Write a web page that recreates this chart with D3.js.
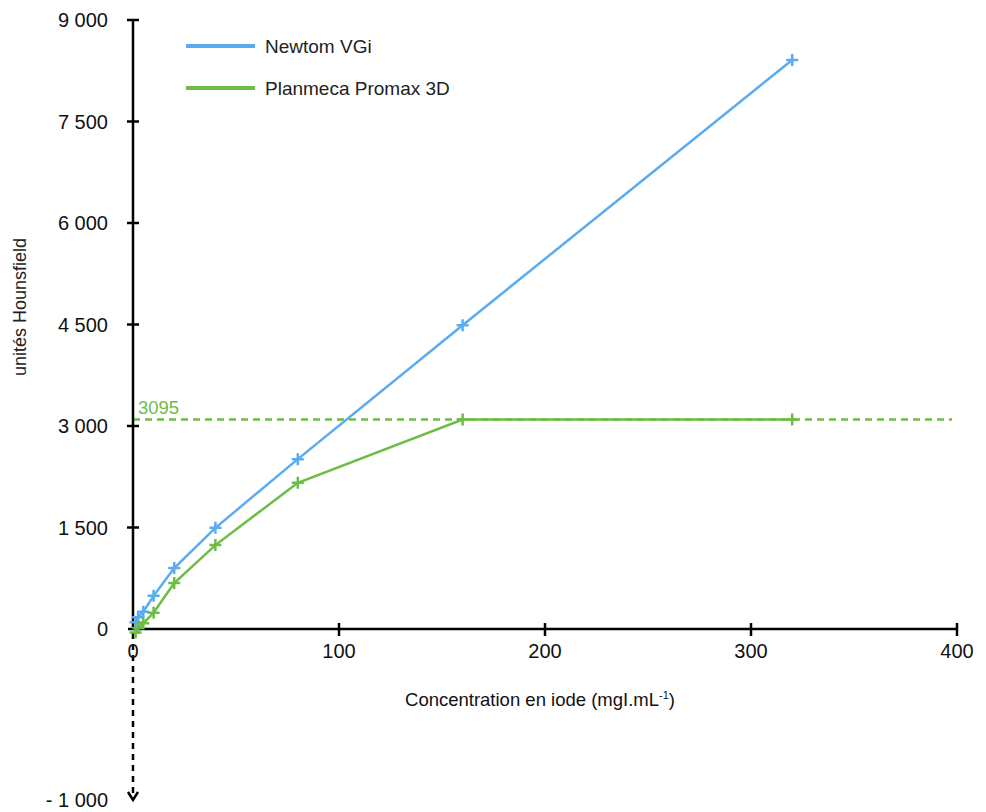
<!DOCTYPE html>
<html><head><meta charset="utf-8">
<script src="https://cdn.jsdelivr.net/npm/d3@7"></script>
<style>body{margin:0;background:#fff}svg{display:block}text{font-family:"Liberation Sans",Arial,Helvetica,sans-serif}</style>
</head><body>
<svg id="c" width="986" height="812"></svg>
<script>
const concentrations = [1.25, 2.5, 5, 10, 20, 40, 80, 160, 320];
const newtom = [100, 175, 255, 490, 900, 1495, 2510, 4490, 8410];
const planmeca = [-20, 15, 85, 240, 680, 1240, 2160, 3095, 3095];
const seriesNames = ["Newtom VGi", "Planmeca Promax 3D"];
const seriesColors = ["#5aabf0", "#6dbd45"];
const yTicks = [0, 1500, 3000, 4500, 6000, 7500, 9000];
const xTicks = [0, 100, 200, 300, 400];
const saturation = 3095;
const yMinLabel = -1000;

const svg = d3.select("#c");
const x = d3.scaleLinear().domain([0, 400]).range([133, 957]);
const y = d3.scaleLinear().domain([-1000, 0, 9000]).range([800, 629, 20]);
const fmt = v => (v < 0 ? "- " : "") + String(Math.abs(v)).replace(/\B(?=(\d{3})+(?!\d))/g, " ");

// saturation dashed line
svg.append("line").attr("x1", x(0)).attr("x2", 952).attr("y1", y(saturation)).attr("y2", y(saturation))
  .attr("stroke", seriesColors[1]).attr("stroke-width", 2.5).attr("stroke-dasharray", "7,5");
svg.append("text").attr("x", x(0) + 5).attr("y", y(saturation) - 6).attr("fill", seriesColors[1])
  .attr("font-size", 18.5).text(String(saturation));

// axes
const ax = svg.append("g").attr("stroke", "#000").attr("stroke-width", 2.5);
ax.append("line").attr("x1", x(0)).attr("x2", x(0)).attr("y1", y(9000)).attr("y2", y(0));
ax.append("line").attr("x1", x(0) - 5).attr("x2", x(400)).attr("y1", y(0)).attr("y2", y(0));
ax.append("line").attr("x1", x(0)).attr("x2", x(0)).attr("y1", y(0) + 4).attr("y2", y(yMinLabel) - 2)
  .attr("stroke-dasharray", "6,5");
ax.append("path").attr("d", `M${x(0)-5},${y(yMinLabel)-8} L${x(0)},${y(yMinLabel)} L${x(0)+5},${y(yMinLabel)-8}`)
  .attr("fill", "none");
yTicks.forEach(t => {
  if (t > 0) ax.append("line").attr("x1", x(0) - 6).attr("x2", x(0) + 6).attr("y1", y(t)).attr("y2", y(t));
  svg.append("text").attr("x", 108).attr("y", y(t)).attr("dy", "0.35em").attr("text-anchor", "end")
    .attr("font-size", 20).attr("fill", "#111").text(fmt(t));
});
svg.append("text").attr("x", 108).attr("y", y(yMinLabel)).attr("dy", "0.35em").attr("text-anchor", "end")
  .attr("font-size", 20).attr("fill", "#111").text(fmt(yMinLabel));
xTicks.forEach(t => {
  if (t > 0) ax.append("line").attr("x1", x(t)).attr("x2", x(t)).attr("y1", y(0) - 6).attr("y2", y(0) + 7);
  svg.append("text").attr("x", x(t)).attr("y", y(0) + 29).attr("text-anchor", "middle")
    .attr("font-size", 20).attr("fill", "#111").text(t);
});

// axis titles
const xt = svg.append("text").attr("x", 540).attr("y", 706).attr("text-anchor", "middle")
  .attr("font-size", 18.5).attr("fill", "#111");
xt.append("tspan").text("Concentration en iode (mgI.mL");
xt.append("tspan").attr("font-size", 11).attr("dy", -7).text("-1");
xt.append("tspan").attr("dy", 7).text(")");
svg.append("text").attr("transform", `translate(26,307) rotate(-90)`).attr("text-anchor", "middle")
  .attr("font-size", 18).attr("fill", "#222").text("unités Hounsfield");

// series
const line = d3.line().x(d => x(d[0])).y(d => y(d[1]));
[newtom, planmeca].forEach((vals, i) => {
  const pts = concentrations.map((c, j) => [c, vals[j]]);
  svg.append("path").datum(pts).attr("d", line).attr("fill", "none")
    .attr("stroke", seriesColors[i]).attr("stroke-width", 2.5);
  const s = 6;
  svg.append("g").selectAll("path").data(pts).join("path")
    .attr("d", d => `M${x(d[0])-s},${y(d[1])}h${2*s}M${x(d[0])},${y(d[1])-s}v${2*s}`)
    .attr("stroke", seriesColors[i]).attr("stroke-width", 2.5);
});

// legend
seriesNames.forEach((n, i) => {
  const ly = 46 + i * 42;
  svg.append("line").attr("x1", 186).attr("x2", 255).attr("y1", ly).attr("y2", ly)
    .attr("stroke", seriesColors[i]).attr("stroke-width", 4);
  svg.append("text").attr("x", 265).attr("y", ly).attr("dy", "0.35em").attr("font-size", 19)
    .attr("fill", "#222").text(n);
});
</script>
</body></html>
